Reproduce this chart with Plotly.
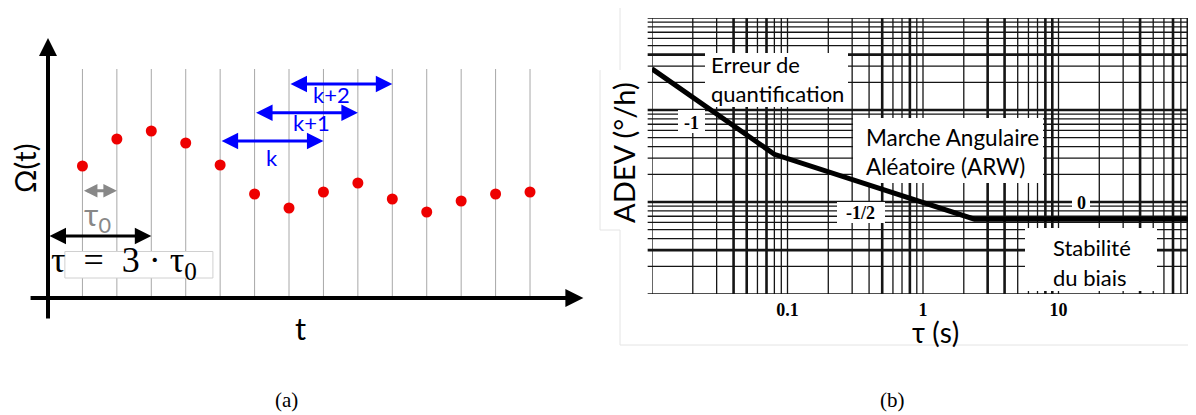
import plotly.graph_objects as go

# ---------------- data: panel (a) ----------------
T_INDEX = [1, 2, 3, 4, 5, 6, 7, 8, 9, 10, 11, 12, 13, 14]
OMEGA = [1.32, 1.59, 1.67, 1.55, 1.33, 1.04, 0.90, 1.06, 1.15, 0.99, 0.86, 0.97, 1.04, 1.06]
WINDOW_STARTS = [5, 6, 7]
WINDOW_LABELS = ["k", "k+1", "k+2"]
WINDOW_LEVELS = [1.57, 1.853, 2.14]
WINDOW_LABEL_POS = [(6.5, 1.26), (7.64, 1.615), (8.23, 1.895)]
WINDOW_LEN = 3

# ---------------- data: panel (b) ----------------
TAU = [0.01, 0.08, 2.4, 100]
ADEV = [280, 33, 6.5, 6.5]
X_TICK_VALS = [0.1, 1, 10]
X_TICK_LABELS = ["0.1", "1", "10"]
SLOPE_LABELS = ["-1", "-1/2", "0"]
X_THICK = [0.04, 0.05, 0.07, 0.5, 0.8, 3, 4, 8, 9, 40, 70, 90]
Y_THICK = [3, 10, 100, 400]

# page body has an 8px margin: figure is shifted by OFF
OFF = 8
FW, FH = 1196 - OFF, 415 - OFF
SANS = "Lato"
SERIF = "Liberation Serif"

SX = 34.43   # pixels per sample in panel (a)
X0A = 48     # pixel of t = 0
Y0A = 298    # pixel of Omega = 0
SY = 100     # pixels per Omega unit


def px(xp):
    return (xp - OFF) / FW


def py(yp):
    return 1 - (yp - OFF) / FH


fig = go.Figure()

# ---- panel (a) points ----
fig.add_trace(go.Scatter(x=T_INDEX, y=OMEGA, mode="markers",
                         marker=dict(color="#ee0000", size=11),
                         xaxis="x", yaxis="y", showlegend=False, hoverinfo="skip"))

# ---- panel (b) curve ----
fig.add_trace(go.Scatter(x=TAU, y=ADEV, mode="lines",
                         line=dict(color="black", width=5),
                         xaxis="x2", yaxis="y2", showlegend=False, hoverinfo="skip"))

shapes = []
annotations = []

# vertical gray lines (a)
for t in T_INDEX:
    shapes.append(dict(type="line", xref="x", yref="y", x0=t, x1=t, y0=0, y1=2.29,
                       line=dict(color="#a8a8a8", width=1), layer="below"))

# tau = 3 tau0 box
shapes.append(dict(type="rect", xref="x", yref="y", x0=0.49, x1=4.79, y0=0.2, y1=0.465,
                   fillcolor="white", line=dict(color="#d0d0d0", width=1), layer="below"))

# axes of (a)
annotations.append(dict(xref="x", yref="y", axref="x", ayref="y", x=15.55, y=0, ax=-0.55, ay=0,
                        text="", showarrow=True, arrowhead=2, arrowwidth=4, arrowsize=0.9,
                        arrowcolor="black"))
annotations.append(dict(xref="x", yref="y", axref="x", ayref="y", x=0, y=2.6, ax=0, ay=-0.22,
                        text="", showarrow=True, arrowhead=2, arrowwidth=4, arrowsize=0.9,
                        arrowcolor="black"))

# window arrows
for s, lab, lv, (lx, ly) in zip(WINDOW_STARTS, WINDOW_LABELS, WINDOW_LEVELS, WINDOW_LABEL_POS):
    annotations.append(dict(xref="x", yref="y", axref="x", ayref="y", x=s + WINDOW_LEN, y=lv,
                            ax=s, ay=lv, text="", showarrow=True, arrowhead=2, arrowside="end+start",
                            arrowwidth=3, arrowsize=1.1, arrowcolor="#0000ff"))
    annotations.append(dict(xref="x", yref="y", x=lx, y=ly, text=lab, showarrow=False,
                            yanchor="bottom", borderpad=0,
                            font=dict(family=SANS, size=22, color="#0000ff")))

# tau0 arrow
annotations.append(dict(xref="x", yref="y", axref="x", ayref="y", x=2, y=1.073, ax=1, ay=1.073,
                        text="", showarrow=True, arrowhead=2, arrowside="end+start",
                        arrowwidth=3, arrowsize=0.9, arrowcolor="#888888"))
annotations.append(dict(xref="x", yref="y", x=1.45, y=0.82, text="τ<sub>0</sub>", showarrow=False,
                        font=dict(family=SANS, size=31, color="#888888")))
# tau = 3 tau0 arrow
annotations.append(dict(xref="x", yref="y", axref="x", ayref="y", x=3, y=0.62, ax=0, ay=0.62,
                        text="", showarrow=True, arrowhead=2, arrowside="end+start",
                        arrowwidth=3, arrowsize=1.1, arrowcolor="black"))
annotations.append(dict(xref="x", yref="y", x=2.2, y=0.36, text="τ  =  3 · τ<sub>0</sub>",
                        showarrow=False, font=dict(family=SERIF, size=36, color="black")))
annotations.append(dict(xref="x", yref="y", x=-0.70, y=1.3, text="Ω(t)", textangle=-90,
                        showarrow=False, font=dict(family=SANS, size=29, color="black")))
annotations.append(dict(xref="x", yref="y", x=7.32, y=-0.30, text="t",
                        showarrow=False, font=dict(family=SANS, size=31, color="black")))

# ---- panel (b) grid ----
xgrid = [k * 10 ** n for n in (-2, -1, 0, 1) for k in range(1, 10)] + [100]
ygrid = [k * 10 ** n for n in (0, 1, 2) for k in range(1, 10)] + [1000]
for v in xgrid:
    wdt = 2.6 if any(abs(v - t) < 1e-9 * max(1, t) for t in X_THICK) else 1.3
    shapes.append(dict(type="line", xref="x2", yref="y2 domain", x0=v, x1=v, y0=0, y1=1,
                       line=dict(color="#151515", width=wdt), layer="below"))
for v in ygrid:
    wdt = 2.6 if any(abs(v - t) < 1e-9 * max(1, t) for t in Y_THICK) else 1.3
    shapes.append(dict(type="line", xref="x2 domain", yref="y2", x0=-0.008, x1=1.003, y0=v, y1=v,
                       line=dict(color="#151515", width=wdt), layer="below"))


def wbox(x0, x1, y0, y1):
    shapes.append(dict(type="rect", xref="paper", yref="paper", x0=px(x0), x1=px(x1),
                       y0=py(y1), y1=py(y0), fillcolor="white", line=dict(width=0), layer="below"))


wbox(705, 848, 53, 107)
wbox(853, 1043, 118, 183)
wbox(1025, 1157, 228, 291)
wbox(678, 705, 110, 133)
wbox(837, 885, 202, 223)
wbox(1072, 1090, 197, 208)

# light borders of the pasted picture
for (x0, y0, x1, y1) in [(620, 0, 620, 70), (600, 70, 600, 230), (600, 230, 620, 230),
                         (620, 230, 620, 345), (620, 345, 1196, 345)]:
    shapes.append(dict(type="line", xref="paper", yref="paper", x0=px(x0), x1=px(x1),
                       y0=py(y0), y1=py(y1), line=dict(color="#e4e4e4", width=1), layer="below"))


def ptext(x, y, text, size, family=SANS, xanchor="left", angle=0, bold=False):
    annotations.append(dict(xref="paper", yref="paper", x=px(x), y=py(y), text=text,
                            showarrow=False, xanchor=xanchor, yanchor="middle", textangle=angle,
                            font=dict(family=family, size=size, color="black",
                                      weight="bold" if bold else "normal")))


ptext(709, 64, "Erreur de", 22)
ptext(709, 93, "quantification", 22)
ptext(864, 137, "Marche Angulaire", 22.5)
ptext(864, 166, "Aléatoire (ARW)", 22.5)
ptext(1051, 247, "Stabilité", 22)
ptext(1051, 277, "du biais", 22)
ptext(691, 123, SLOPE_LABELS[0], 18, family=SERIF, xanchor="center", bold=True)
ptext(860, 213, SLOPE_LABELS[1], 18, family=SERIF, xanchor="center", bold=True)
ptext(1081, 203, SLOPE_LABELS[2], 18, family=SERIF, xanchor="center", bold=True)
ptext(935, 332, "τ (s)", 28, xanchor="center")
ptext(623, 152, "ADEV (°/h)", 29, xanchor="center", angle=-90)
ptext(286, 400, "(a)", 21, family=SERIF, xanchor="center")
ptext(892, 400, "(b)", 21, family=SERIF, xanchor="center")

fig.update_layout(
    width=FW, height=FH, margin=dict(l=0, r=0, t=0, b=0, pad=0),
    paper_bgcolor="white", plot_bgcolor="rgba(0,0,0,0)",
    xaxis=dict(domain=[0, px(600)], range=[(OFF - X0A) / SX, (600 - X0A) / SX], visible=False),
    yaxis=dict(domain=[0, 1], range=[(Y0A - 415) / SY, (Y0A - OFF) / SY], visible=False),
    xaxis2=dict(domain=[px(652), px(1194)], type="log", range=[-2, 2], anchor="y2",
                showgrid=False, zeroline=False, showline=False, ticks="",
                tickvals=X_TICK_VALS, ticktext=X_TICK_LABELS, ticklabelstandoff=3,
                tickfont=dict(family=SERIF, size=18, color="black", weight="bold")),
    yaxis2=dict(domain=[py(294), py(18)], type="log", range=[0, 3], anchor="x2",
                showgrid=False, zeroline=False, showline=False, ticks="", showticklabels=False),
    shapes=shapes, annotations=annotations, showlegend=False,
)

fig.write_html("out.html")
